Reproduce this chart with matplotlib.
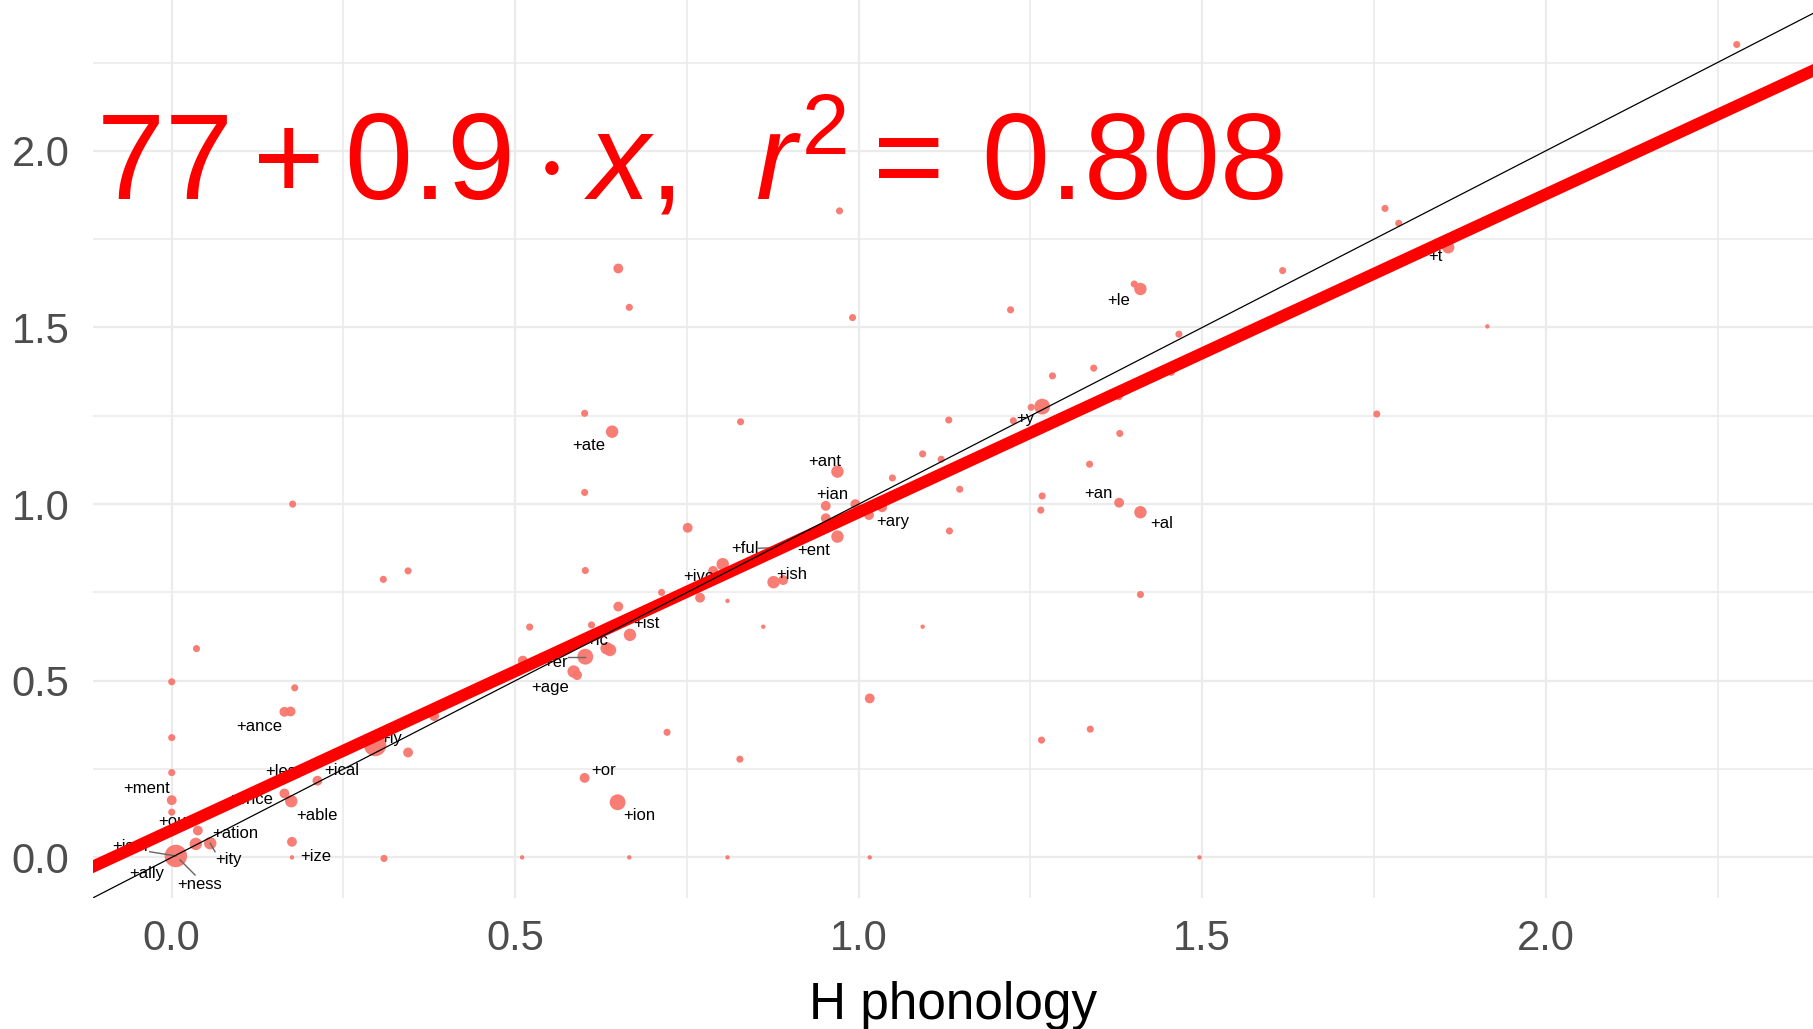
import matplotlib
matplotlib.use("Agg")
from matplotlib import pyplot as plt
import numpy as np

plt.rcParams['font.family'] = ['Liberation Sans', 'DejaVu Sans']
plt.rcParams['mathtext.fontset'] = 'custom'
plt.rcParams['mathtext.rm'] = 'Liberation Sans'
plt.rcParams['mathtext.it'] = 'Liberation Sans:italic'

# suffix entropy: H phonology (x) against the other measure (y)
x = [0.000, 0.000, 0.000, 0.000, 0.000, 0.006, 0.036, 0.038, 0.035, 0.056,
     0.164, 0.173, 0.179, 0.176, 0.164, 0.174, 0.212, 0.175, 0.175, 0.296,
     0.309, 0.308, 0.344, 0.344, 0.382, 0.521, 0.511, 0.510, 0.585, 0.590,
     0.602, 0.633, 0.638, 0.611, 0.650, 0.667, 0.602, 0.713, 0.751, 0.769,
     0.809, 0.861, 0.788, 0.802, 0.876, 0.890, 0.883, 0.969, 0.952, 0.952,
     0.995, 1.015, 1.034, 0.969, 1.049, 1.093, 1.120, 1.147, 1.131, 1.132,
     1.093, 0.828, 0.721, 0.827, 0.601, 0.649, 0.666, 0.809, 1.016, 1.496,
     1.016, 1.266, 1.337, 0.972, 0.650, 0.666, 0.991, 1.221, 1.401, 1.410,
     1.466, 1.342, 1.282, 1.455, 1.379, 1.267, 1.251, 1.225, 1.380, 0.601,
     0.641, 0.601, 1.336, 1.267, 1.265, 1.379, 1.410, 1.410, 1.617, 1.754,
     1.766, 1.786, 1.858, 2.278, 1.915]
y = [0.497, 0.339, 0.240, 0.162, 0.128, 0.004, 0.591, 0.076, 0.038, 0.040,
     0.412, 0.413, 0.480, 1.000, 0.181, 0.159, 0.217, 0.044, 0.000, 0.318,
     -0.003, 0.787, 0.811, 0.297, 0.400, 0.652, 0.557, 0.000, 0.526, 0.516,
     0.568, 0.592, 0.587, 0.658, 0.710, 0.630, 0.812, 0.750, 0.933, 0.735,
     0.726, 0.653, 0.811, 0.830, 0.779, 0.785, 0.872, 0.908, 0.995, 0.960,
     1.000, 0.969, 0.991, 1.092, 1.074, 1.142, 1.127, 1.042, 1.238, 0.924,
     0.653, 1.233, 0.354, 0.278, 0.225, 0.156, 0.000, 0.000, 0.000, 0.000,
     0.450, 0.332, 0.363, 1.830, 1.667, 1.557, 1.528, 1.550, 1.623, 1.609,
     1.481, 1.385, 1.363, 1.373, 1.304, 1.276, 1.274, 1.236, 1.200, 1.257,
     1.205, 1.033, 1.113, 1.023, 0.983, 1.004, 0.977, 0.744, 1.661, 1.255,
     1.837, 1.795, 1.727, 2.301, 1.503]
# point size class: 0 tiny .. 5 huge (token frequency)
size_class = [1, 1, 1, 2, 1, 5, 1, 2, 3, 3,
              2, 2, 1, 1, 2, 3, 2, 2, 0, 5,
              1, 1, 1, 2, 2, 1, 2, 0, 3, 2,
              4, 3, 3, 1, 2, 3, 1, 1, 2, 2,
              0, 0, 2, 3, 3, 2, 2, 3, 2, 2,
              2, 2, 2, 3, 1, 1, 1, 1, 1, 1,
              0, 1, 1, 1, 2, 4, 0, 0, 0, 0,
              2, 1, 1, 1, 2, 1, 1, 1, 1, 3,
              1, 1, 1, 1, 1, 4, 1, 1, 1, 1,
              3, 1, 1, 1, 1, 2, 3, 1, 1, 1,
              1, 1, 3, 1, 0]
marker_area = [10, 26, 50, 80, 130, 260]

labels = ['+ance', '+ment', '+less', '+ical', '+ence', '+able', '+ous', '+ation',
          '+ism', '+ity', '+ize', '+ally', '+ness', '+ly', '+ate', '+ant', '+ian',
          '+ary', '+ful', '+ent', '+ish', '+ive', '+ist', '+ic', '+er', '+age',
          '+or', '+ion', '+y', '+an', '+al', '+le', '+t']
label_x = [0.128, -0.036, 0.165, 0.247, 0.114, 0.211, 0.007, 0.092,
           -0.061, 0.082, 0.209, -0.036, 0.041, 0.320, 0.607, 0.950, 0.961,
           1.049, 0.834, 0.934, 0.902, 0.767, 0.691, 0.619, 0.558, 0.551,
           0.628, 0.680, 1.243, 1.349, 1.441, 1.379, 1.839]
label_y = [0.370, 0.196, 0.243, 0.247, 0.165, 0.118, 0.101, 0.068,
           0.030, -0.007, 0.002, -0.045, -0.078, 0.337, 1.165, 1.120, 1.026,
           0.950, 0.873, 0.868, 0.802, 0.794, 0.663, 0.615, 0.552, 0.480,
           0.247, 0.118, 1.243, 1.029, 0.946, 1.576, 1.702]

# repel segments (label side -> point)
seg_x0 = [-0.032, 0.012, 0.056, 0.577, 0.854]
seg_y0 = [0.016, -0.007, 0.040, 0.568, 0.875]
seg_x1 = [0.006, 0.034, 0.063, 0.602, 0.885]
seg_y1 = [0.004, -0.050, 0.016, 0.568, 0.877]

intercept = 0.077
slope = 0.9
r2 = 0.808

fig = plt.figure(figsize=(18.13, 10.29), dpi=100)
ax = fig.add_axes([93/1813, 1 - 898/1029, 1 - 93/1813, 898/1029])

ax.set_xlim(-0.1146, 2.389)
ax.set_ylim(-0.115, 2.427)
ax.set_xticks([0, 0.5, 1.0, 1.5, 2.0])
ax.set_yticks([0, 0.5, 1.0, 1.5, 2.0])
ax.set_xticks([0.25, 0.75, 1.25, 1.75, 2.25], minor=True)
ax.set_yticks([0.25, 0.75, 1.25, 1.75, 2.25], minor=True)
ax.set_xticklabels(['0.0', '0.5', '1.0', '1.5', '2.0'])
ax.set_yticklabels(['0.0', '0.5', '1.0', '1.5', '2.0'])
ax.grid(which='major', color='#EBEBEB', lw=1.6)
ax.grid(which='minor', color='#EBEBEB', lw=1.2)
ax.set_axisbelow(True)
for s in ax.spines.values():
    s.set_visible(False)
ax.tick_params(which='both', length=0)
ax.tick_params(axis='x', labelsize=30, labelcolor='#4D4D4D', pad=15)
ax.tick_params(axis='y', labelsize=30, labelcolor='#4D4D4D', pad=17)
ax.set_xlabel('H phonology', fontsize=37, labelpad=16)

sizes = [marker_area[c] for c in size_class]
ax.scatter(x, y, s=sizes, color='#F8766D', alpha=0.95, linewidths=0, zorder=2)

for i in range(len(seg_x0)):
    ax.plot([seg_x0[i], seg_x1[i]], [seg_y0[i], seg_y1[i]], color='#666666', lw=1, zorder=3)

for t, lx, ly in zip(labels, label_x, label_y):
    ax.text(lx, ly, t, fontsize=12, ha='center', va='center', color='black', zorder=4)

# fitted line and identity
ax.axline((0, intercept), slope=slope, color='#FF0000', lw=8.6, zorder=5)
ax.axline((0, 0), slope=1, color='black', lw=0.9, zorder=6)

eq = r'$y = %.3f + %.1f \cdot x,\ \,r^{2} =\, %.3f$' % (intercept, slope, r2)
ax.text(1.618, 1.861, eq, fontsize=88, color='#FF0000', ha='right', va='baseline',
        clip_on=True, zorder=7)

plt.savefig('out.png', dpi=100)
